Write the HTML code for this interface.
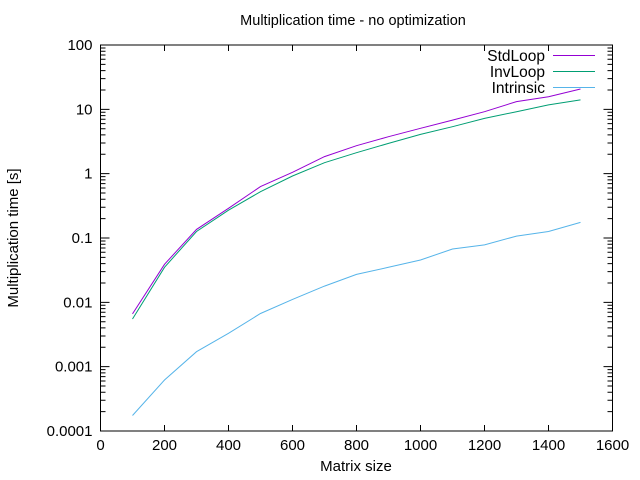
<!DOCTYPE html>
<html><head><meta charset="utf-8"><style>
body{margin:0;background:#fff}
svg{display:block;font-family:"Liberation Sans",sans-serif}
</style></head><body>
<svg id="c" width="640" height="480"></svg>
<script>
const xValues=[100,200,300,400,500,600,700,800,900,1000,1100,1200,1300,1400,1500];
const stdLoop=[0.0066,0.039,0.136,0.29,0.63,1.05,1.84,2.72,3.76,5.07,6.8,9.2,13.2,15.7,20.7];
const invLoop=[0.0055,0.035,0.126,0.27,0.525,0.92,1.48,2.12,2.95,4.07,5.37,7.24,9.2,11.7,14.0];
const intrinsic=[0.000174,0.00062,0.00171,0.0033,0.0067,0.0111,0.0179,0.0272,0.035,0.0455,0.0674,0.078,0.107,0.126,0.175];
const xTicks=[0,200,400,600,800,1000,1200,1400,1600];
const yTicks=[0.0001,0.001,0.01,0.1,1,10,100];
const yTickLabels=["0.0001","0.001","0.01","0.1","1","10","100"];
const seriesNames=["StdLoop","InvLoop","Intrinsic"];
const seriesColors=["#9400d3","#009e73","#56b4e9"];

const L=100.5,R=612.5,T=45,B=431;
const NS="http://www.w3.org/2000/svg";
const svg=document.getElementById('c');
const X=v=>L+(v-0)/(1600-0)*(R-L);
const Y=v=>B-(Math.log10(v)+4)/6*(B-T);
function el(t,a,txt){const e=document.createElementNS(NS,t);for(const k in a)e.setAttribute(k,a[k]);if(txt!==undefined)e.textContent=txt;svg.appendChild(e);return e;}

xTicks.forEach((v,i)=>{
  const x=X(v);
  const t=el('path',{d:`M${x},${B}v-6M${x},${T}v6`,stroke:'#000','stroke-width':1,fill:'none'});
  
  
  const lb=el('text',{x:x,y:B+19,'text-anchor':'middle','font-size':15},String(v));
  
  
});
yTicks.forEach((v,i)=>{
  const y=Y(v);
  const t=el('path',{d:`M${L},${y}h9M${R},${y}h-9`,stroke:'#000','stroke-width':1,fill:'none'});
  
  
  const lb=el('text',{x:L-8,y:y+5,'text-anchor':'end','font-size':15},yTickLabels[i]);
  
  
  if(i<yTicks.length-1){
    for(let m=2;m<10;m++){
      const ym=Y(v*m);
      const mt=el('path',{d:`M${L},${ym}h5M${R},${ym}h-5`,stroke:'#000','stroke-width':1,fill:'none'});
      
      
    }
  }
});
const frame=el('rect',{x:L,y:T,width:R-L,height:B-T,fill:'none',stroke:'#000','stroke-width':1});



[stdLoop,invLoop,intrinsic].forEach((s,k)=>{
  const d=s.map((v,i)=>(i?'L':'M')+X(xValues[i]).toFixed(1)+','+Y(v).toFixed(1)).join('');
  const p=el('path',{d:d,stroke:seriesColors[k],'stroke-width':1,fill:'none'});
  
  
  const ly=55.5+k*16;
  const ll=el('path',{d:`M553,${ly}H595`,stroke:seriesColors[k],'stroke-width':1});
  
  
  const lt=el('text',{x:545,y:ly+5.5,'text-anchor':'end','font-size':15.5},seriesNames[k]);
  
  
});

const title=el('text',{x:353,y:25,'text-anchor':'middle','font-size':14.5},'Multiplication time - no optimization');


const xt=el('text',{x:356,y:471,'text-anchor':'middle','font-size':15},'Matrix size');


const yt=el('text',{x:0,y:0,'text-anchor':'middle','font-size':15,transform:'translate(18,238) rotate(-90)'},'Multiplication time [s]');


</script>
</body></html>
